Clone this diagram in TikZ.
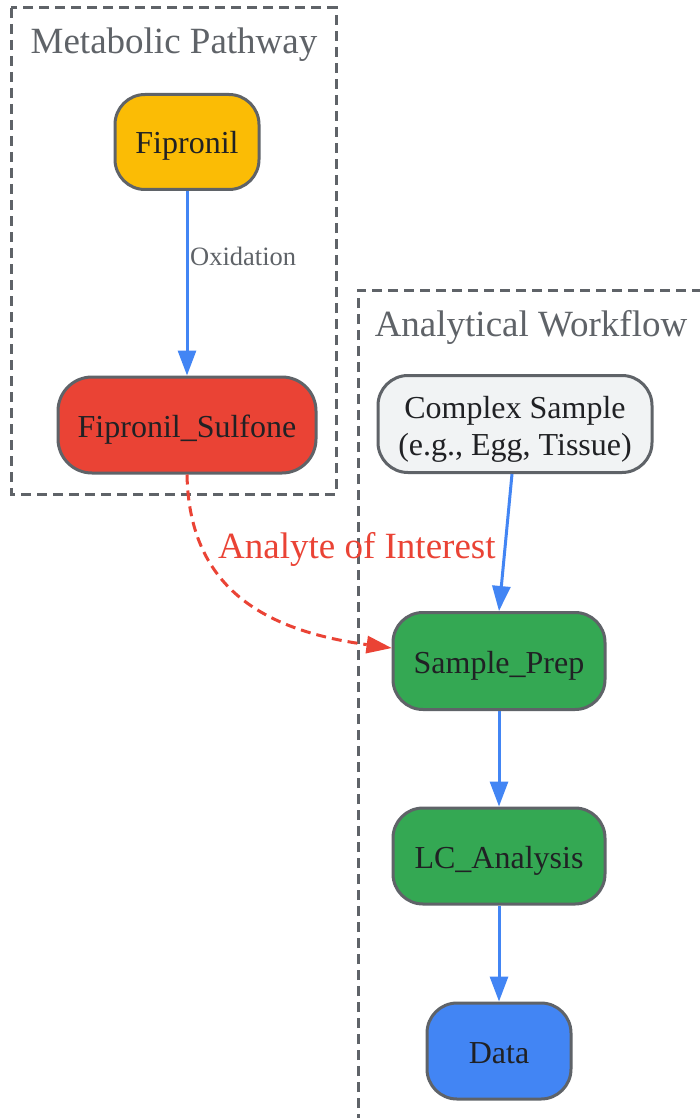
\documentclass[tikz,border=0pt]{standalone}
\usepackage{fontspec}
\setmainfont{Liberation Serif}
\usetikzlibrary{arrows.meta}
\definecolor{strokegray}{HTML}{5F6368}
\definecolor{gyellow}{HTML}{FBBC05}
\definecolor{gred}{HTML}{EA4335}
\definecolor{ggreen}{HTML}{34A853}
\definecolor{gblue}{HTML}{4285F4}
\definecolor{glight}{HTML}{F1F3F4}
\definecolor{gtext}{HTML}{202124}
\newcommand{\lowtext}[2]{\raisebox{-#1}[0pt][0pt]{#2}}
\tikzset{
  proc/.style={draw=strokegray, line width=3pt, rounded corners=30pt, inner sep=0pt,
    text=gtext, align=center, font=\fontsize{32}{37}\selectfont},
  cluster/.style={draw=strokegray, line width=3pt, dash pattern=on 10pt off 6pt},
  ctitle/.style={text=strokegray, font=\fontsize{37}{44}\selectfont, inner sep=0pt, anchor=base},
  flow/.style={draw=gblue, line width=3pt, -{Triangle[length=25pt,width=18pt]}},
  redflow/.style={draw=gred, line width=3pt, dash pattern=on 10pt off 6pt,
    -{Triangle[length=25pt,width=18pt,fill=gred,line width=0pt]}},
}
\begin{document}
\begin{tikzpicture}[x=1pt,y=-1pt]
\useasboundingbox (0,0) rectangle (700,1118);
\clip (0,0) rectangle (700,1118);
\fill[white] (0,0) rectangle (700,1118);
% clusters
\draw[cluster] (11,8) rectangle (336,494);
\draw[cluster] (358,1140) -- (358,290) -- (720,290);
\node[ctitle] (t1) at (174,54) {Metabolic Pathway};
\node[ctitle] (t2) at (531,336) {Analytical Workflow};
% nodes
\node[proc, fill=gyellow, minimum width=144pt, minimum height=95pt] (fip) at (187,142) {\lowtext{12pt}{Fipronil}};
\node[proc, fill=gred, rounded corners=34pt, minimum width=258pt, minimum height=96pt] (fs) at (187,425) {\lowtext{12pt}{Fipronil\_Sulfone}};
\node[proc, fill=glight, minimum width=274pt, minimum height=97pt] (cs) at (515,424) {\lowtext{31pt}{\begin{tabular}[b]{@{}c@{}}Complex Sample\\(e.g., Egg, Tissue)\end{tabular}}};
\node[proc, fill=ggreen, minimum width=212pt, minimum height=97pt] (sp) at (499,661) {\lowtext{12pt}{Sample\_Prep}};
\node[proc, fill=ggreen, minimum width=212pt, minimum height=96pt] (lc) at (499,856) {\lowtext{12pt}{LC\_Analysis}};
\node[proc, fill=gblue, minimum width=144pt, minimum height=96pt] (data) at (499,1051) {\lowtext{12pt}{Data}};
% edges
\draw[flow] (fip.south) -- (fs.north);
\node[anchor=base west, inner sep=0pt, text=strokegray, font=\fontsize{26.5}{30}\selectfont] (ox) at (190,265) {Oxidation};
\draw[flow] ([xshift=-3pt]cs.south) -- (sp.north);
\draw[flow] (sp.south) -- (lc.north);
\draw[flow] (lc.south) -- (data.north);
\draw[redflow] (fs.south) .. controls (189,585) and (260,630) .. ([yshift=13pt]sp.west);
\node[anchor=base west, inner sep=0pt, text=gred, font=\fontsize{37}{44}\selectfont] (ai) at (218,558) {Analyte of Interest};
\end{tikzpicture}
\end{document}
